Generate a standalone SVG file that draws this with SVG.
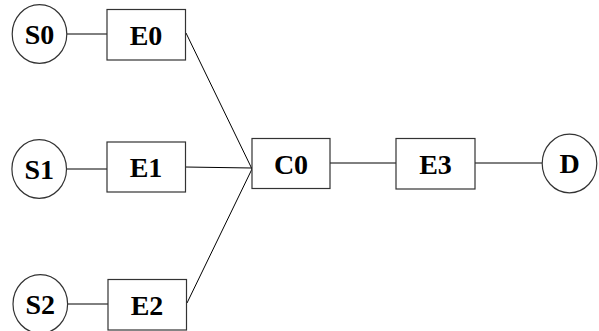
<svg xmlns="http://www.w3.org/2000/svg" width="599" height="331" viewBox="0 0 599 331">
<style>
.n{fill:#fff;stroke:#333;stroke-width:1.2}
.t{font-family:'Liberation Serif','Times New Roman',serif;font-weight:700;font-size:28px;fill:#000;text-anchor:middle}
.e{stroke:#000;stroke-width:1;fill:none}
</style>
<rect width="599" height="331" fill="#fff"/>
<g id="connectors">
<line class="e" x1="67" y1="34" x2="107" y2="34"/>
<line class="e" x1="67" y1="169" x2="107" y2="169"/>
<line class="e" x1="67" y1="304" x2="108" y2="304"/>
<line class="e" x1="186" y1="33" x2="252" y2="169"/>
<line class="e" x1="185" y1="167" x2="252" y2="168"/>
<line class="e" x1="187" y1="303" x2="252" y2="169"/>
<line class="e" x1="330" y1="163" x2="396" y2="163"/>
<line class="e" x1="475" y1="163" x2="542" y2="163"/>
</g>
<g id="S0"><ellipse class="n" cx="39.5" cy="34" rx="27.3" ry="29.3"/><text class="t" x="39.5" y="43.5">S0</text></g>
<g id="S1"><ellipse class="n" cx="39.2" cy="169" rx="27.3" ry="29.3"/><text class="t" x="39.2" y="178.5">S1</text></g>
<g id="S2"><ellipse class="n" cx="40.3" cy="304" rx="27.3" ry="29.3"/><text class="t" x="40.3" y="313.5">S2</text></g>
<g id="E0"><rect class="n" x="107" y="9.5" width="78.5" height="50.5"/><text class="t" x="146" y="44.5">E0</text></g>
<g id="E1"><rect class="n" x="107" y="142" width="78.5" height="50"/><text class="t" x="146" y="177">E1</text></g>
<g id="E2"><rect class="n" x="108" y="279.5" width="78.5" height="50.5"/><text class="t" x="147" y="314.5">E2</text></g>
<g id="C0"><rect class="n" x="252" y="138.5" width="78" height="50"/><text class="t" x="291" y="173.5">C0</text></g>
<g id="E3"><rect class="n" x="396" y="138.5" width="79" height="50.5"/><text class="t" x="435.5" y="173.5">E3</text></g>
<g id="D"><ellipse class="n" cx="569.5" cy="163.5" rx="27.3" ry="29.3"/><text class="t" x="569.5" y="173">D</text></g>
</svg>
